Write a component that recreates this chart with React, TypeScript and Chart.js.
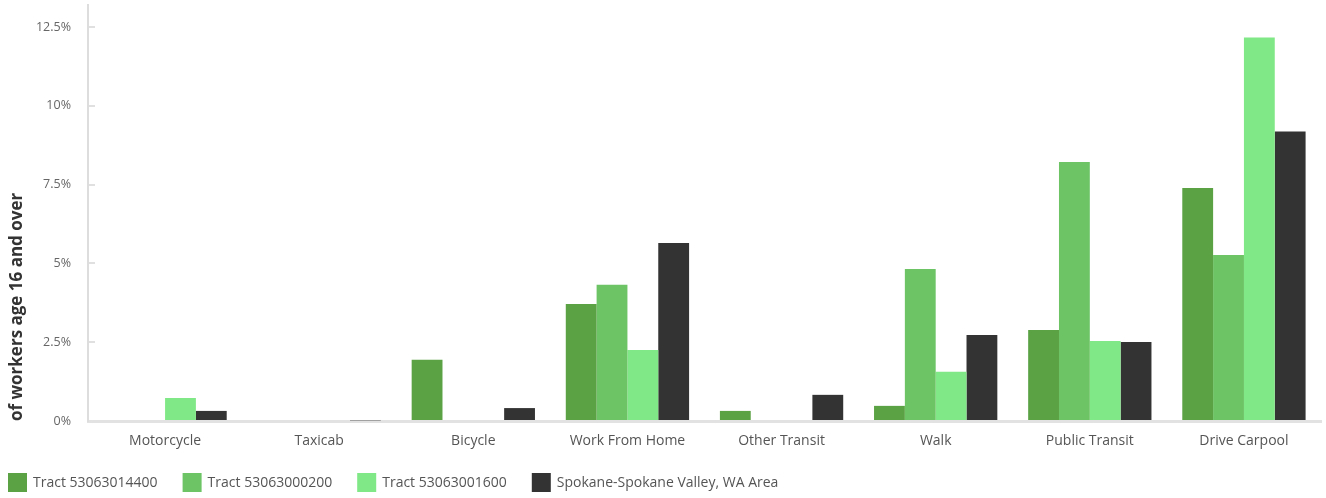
import React, { useEffect, useRef } from "react";
import { Chart, registerables } from "chart.js";

Chart.register(...registerables);

const categories = [
  "Motorcycle",
  "Taxicab",
  "Bicycle",
  "Work From Home",
  "Other Transit",
  "Walk",
  "Public Transit",
  "Drive Carpool",
];

const seriesNames = [
  "Tract 53063014400",
  "Tract 53063000200",
  "Tract 53063001600",
  "Spokane-Spokane Valley, WA Area",
];

const tract14400 = [0, 0, 1.94, 3.71, 0.32, 0.48, 2.89, 7.39];
const tract00200 = [0, 0, 0, 4.32, 0, 4.82, 8.22, 5.27];
const tract01600 = [0.73, 0, 0, 2.25, 0, 1.56, 2.54, 12.17];
const spokaneArea = [0.32, 0.02, 0.41, 5.65, 0.83, 2.73, 2.51, 9.19];

const seriesColors = ["#5ba244", "#6cc465", "#80e886", "#333333"];

const yTitle = "of workers age 16 and over";
const yMax = 13.2;
const yStep = 2.5;

const FONT = "'Open Sans', 'DejaVu Sans', sans-serif";

const legendPlugin = {
  id: "customLegend",
  afterDraw(chart: any) {
    const ctx = chart.ctx;
    ctx.save();
    ctx.font = `14px ${FONT}`;
    ctx.textBaseline = "middle";
    ctx.textAlign = "left";
    let x = 8;
    const boxTop = 473;
    const box = 19;
    chart.data.datasets.forEach((ds: any) => {
      ctx.fillStyle = ds.backgroundColor;
      ctx.fillRect(x, boxTop, box, box);
      ctx.fillStyle = "#555555";
      const tx = x + box + 6;
      ctx.fillText(ds.label, tx, boxTop + box / 2 + 1);
      x = tx + ctx.measureText(ds.label).width + 25;
    });
    ctx.restore();
  },
};

export default function App() {
  const ref = useRef<HTMLCanvasElement | null>(null);

  useEffect(() => {
    if (!ref.current) return;
    const series = [tract14400, tract00200, tract01600, spokaneArea];
    const chart = new Chart(ref.current, {
      type: "bar",
      data: {
        labels: categories,
        datasets: series.map((d, i) => ({
          label: seriesNames[i],
          data: d,
          backgroundColor: seriesColors[i],
          borderWidth: 0,
          categoryPercentage: 0.8,
          barPercentage: 1.0,
        })),
      },
      options: {
        animation: false,
        responsive: false,
        maintainAspectRatio: false,
        layout: { padding: { top: 5, right: 5, bottom: 47, left: 0 } },
        plugins: {
          legend: { display: false },
          tooltip: { enabled: false },
        },
        scales: {
          x: {
            grid: {
              display: true,
              drawOnChartArea: false,
              drawTicks: false,
            },
            border: { display: true, color: "#e2e2e2", width: 3 },
            ticks: {
              color: "#555555",
              font: { family: FONT, size: 14 },
              padding: 12,
              maxRotation: 0,
              autoSkip: false,
            },
            afterFit(scale: any) {
              scale.height = 30;
              scale.paddingTop = 0;
              scale.paddingBottom = 0;
            },
          },
          y: {
            min: 0,
            max: yMax,
            border: { display: true, color: "#dddddd", width: 2 },
            grid: {
              display: true,
              drawOnChartArea: false,
              drawTicks: true,
              tickLength: -7,
              color: "#e0e0e0",
              lineWidth: 2,
            },
            ticks: {
              stepSize: yStep,
              includeBounds: false,
              color: "#666666",
              font: { family: FONT, size: 12.5 },
              padding: 24,
              callback: (v: any) => `${v}%`,
            },
            title: {
              display: true,
              text: yTitle,
              align: "start",
              color: "#333333",
              font: { family: FONT, size: 17, weight: "bold" },
              padding: { top: 7, bottom: 0 },
            },
            afterFit(scale: any) {
              scale.width = 88;
              scale.paddingTop = 0;
              scale.paddingBottom = 0;
            },
          },
        },
      },
      plugins: [legendPlugin],
    });
    return () => chart.destroy();
  }, []);

  return (
    <div style={{ position: "absolute", left: 0, top: 0, width: 1326, height: 498, background: "#fff" }}>
      <canvas ref={ref} width={1326} height={498} style={{ display: "block" }} />
    </div>
  );
}
